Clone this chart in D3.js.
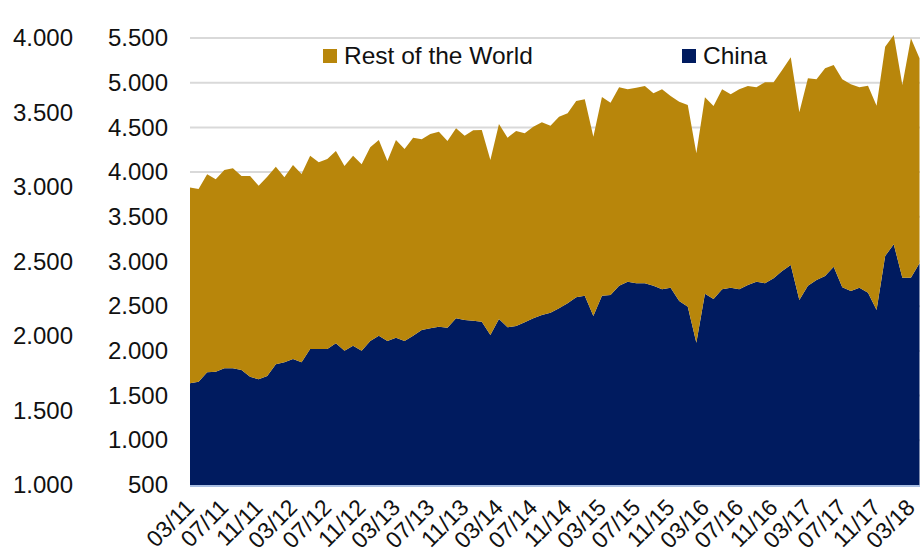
<!DOCTYPE html>
<html>
<head>
<meta charset="utf-8">
<script src="https://cdn.jsdelivr.net/npm/d3@7/dist/d3.min.js"></script>
<style>
  html, body { margin: 0; padding: 0; background: #ffffff; }
  svg { display: block; font-family: "Liberation Sans", Arial, sans-serif; }
</style>
</head>
<body>
<svg id="chart" width="920" height="558"></svg>
<script>
// Monthly categories, 03/11 .. 04/18
const months = [
  "03/11","04/11","05/11","06/11","07/11","08/11","09/11","10/11","11/11","12/11",
  "01/12","02/12","03/12","04/12","05/12","06/12","07/12","08/12","09/12","10/12","11/12","12/12",
  "01/13","02/13","03/13","04/13","05/13","06/13","07/13","08/13","09/13","10/13","11/13","12/13",
  "01/14","02/14","03/14","04/14","05/14","06/14","07/14","08/14","09/14","10/14","11/14","12/14",
  "01/15","02/15","03/15","04/15","05/15","06/15","07/15","08/15","09/15","10/15","11/15","12/15",
  "01/16","02/16","03/16","04/16","05/16","06/16","07/16","08/16","09/16","10/16","11/16","12/16",
  "01/17","02/17","03/17","04/17","05/17","06/17","07/17","08/17","09/17","10/17","11/17","12/17",
  "01/18","02/18","03/18","04/18"
];

// China (lower band)
const china = [
  1638,1656,1761,1767,1805,1805,1786,1711,1682,1719,
  1850,1873,1909,1873,2021,2021,2021,2085,2002,2058,2002,2111,
  2170,2111,2148,2111,2170,2234,2253,2271,2260,2365,2346,2338,
  2327,2178,2357,2264,2279,2320,2365,2402,2427,2477,2533,2600,
  2618,2390,2618,2625,2729,2774,2756,2756,2729,2689,2707,2558,
  2494,2092,2640,2581,2689,2707,2689,2737,2774,2756,2812,2894,
  2961,2569,2729,2793,2838,2942,2711,2670,2707,2651,2458,3062,
  3192,2819,2819,2980
];

// Rest of the World (stacked on top of China)
const restOfWorld = [
  2190,2155,2214,2153,2219,2238,2170,2245,2166,2230,
  2211,2069,2171,2106,2163,2089,2126,2151,2066,2126,2085,2167,
  2189,2013,2211,2147,2215,2133,2173,2181,2088,2125,2061,2130,
  2144,1957,2181,2121,2181,2114,2143,2155,2092,2143,2125,2195,
  2196,2006,2222,2151,2220,2152,2188,2207,2153,2237,2144,2230,
  2257,2118,2197,2158,2237,2163,2237,2226,2175,2249,2193,2248,
  2323,2100,2320,2245,2323,2256,2327,2312,2242,2316,2285,2341,
  2342,2155,2678,2293
];

const xTickLabels = [
  "03/11","07/11","11/11","03/12","07/12","11/12","03/13","07/13","11/13",
  "03/14","07/14","11/14","03/15","07/15","11/15","03/16","07/16","11/16",
  "03/17","07/17","11/17","03/18"
];

const innerTicks = [500,1000,1500,2000,2500,3000,3500,4000,4500,5000,5500];
const outerTicks = [1000,1500,2000,2500,3000,3500,4000];

const seriesNames = ["China", "Rest of the World"];
const colors = { "China": "#001b5f", "Rest of the World": "#b8860b" };

const svg = d3.select("#chart");
const plot = { left: 190, right: 919.5, top: 38, bottom: 485 };

const x = d3.scalePoint().domain(months).range([plot.left, plot.right]);
const y = d3.scaleLinear().domain([500, 5500]).range([plot.bottom, plot.top]);
const yOuter = d3.scaleLinear().domain([1000, 4000]).range([plot.bottom, plot.top]);

const fmt = v => d3.format(",")(v).replace(/,/g, ".");

// gridlines
svg.append("g")
  .selectAll("line")
  .data(innerTicks.slice(1))
  .join("line")
  .attr("x1", plot.left).attr("x2", 920)
  .attr("y1", d => y(d)).attr("y2", d => y(d))
  .attr("stroke", "#d9d9d9").attr("stroke-width", 2);

// stacked areas
const rows = months.map((m, i) => ({ month: m, "China": china[i], "Rest of the World": restOfWorld[i] }));
const stacked = d3.stack().keys(seriesNames)(rows);

svg.append("clipPath").attr("id", "plotClip")
  .append("rect").attr("x", plot.left).attr("y", 0)
  .attr("width", 920 - plot.left).attr("height", plot.bottom);

const area = d3.area()
  .x(d => x(d.data.month))
  .y0(d => y(Math.max(500, d[0])))
  .y1(d => y(d[1]));

svg.append("g").attr("clip-path", "url(#plotClip)")
  .selectAll("path")
  .data(stacked)
  .join("path")
  .attr("fill", d => colors[d.key])
  .attr("d", area);

// baseline
svg.append("line")
  .attr("x1", plot.left).attr("x2", 920)
  .attr("y1", plot.bottom + 1).attr("y2", plot.bottom + 1)
  .attr("stroke", "#a9bfe3").attr("stroke-width", 2);

// inner value axis
const innerAxis = d3.axisLeft(y).tickValues(innerTicks).tickFormat(fmt).tickSize(0).tickPadding(0);
svg.append("g")
  .attr("transform", "translate(168,0)")
  .call(innerAxis)
  .call(g => g.select(".domain").remove())
  .selectAll("text")
  .attr("font-size", 24).attr("fill", "#111").attr("font-family", "Liberation Sans, Arial, sans-serif");

// outer value axis
const outerAxis = d3.axisLeft(yOuter).tickValues(outerTicks).tickFormat(fmt).tickSize(0).tickPadding(0);
svg.append("g")
  .attr("transform", "translate(73,0)")
  .call(outerAxis)
  .call(g => g.select(".domain").remove())
  .selectAll("text")
  .attr("font-size", 24).attr("fill", "#111").attr("font-family", "Liberation Sans, Arial, sans-serif");

// category axis
const xAxis = d3.axisBottom(x).tickValues(xTickLabels).tickSize(0).tickPadding(0);
svg.append("g")
  .attr("transform", `translate(0,${plot.bottom})`)
  .call(xAxis)
  .call(g => g.select(".domain").remove())
  .selectAll("text")
  .attr("font-size", 23).attr("fill", "#111")
  .attr("font-family", "Liberation Sans, Arial, sans-serif")
  .attr("text-anchor", "end")
  .attr("dy", null)
  .attr("y", null)
  .attr("transform", "translate(5,24) rotate(-45)");

// legend
const legend = [
  { name: "Rest of the World", x: 323 },
  { name: "China", x: 682 }
];
const lg = svg.append("g").selectAll("g").data(legend).join("g")
  .attr("transform", d => `translate(${d.x},49)`);
lg.append("rect").attr("width", 14).attr("height", 14).attr("fill", d => colors[d.name]);
lg.append("text").attr("x", 21).attr("y", 15)
  .attr("font-size", 24.5).attr("fill", "#111")
  .text(d => d.name);
</script>
</body>
</html>
